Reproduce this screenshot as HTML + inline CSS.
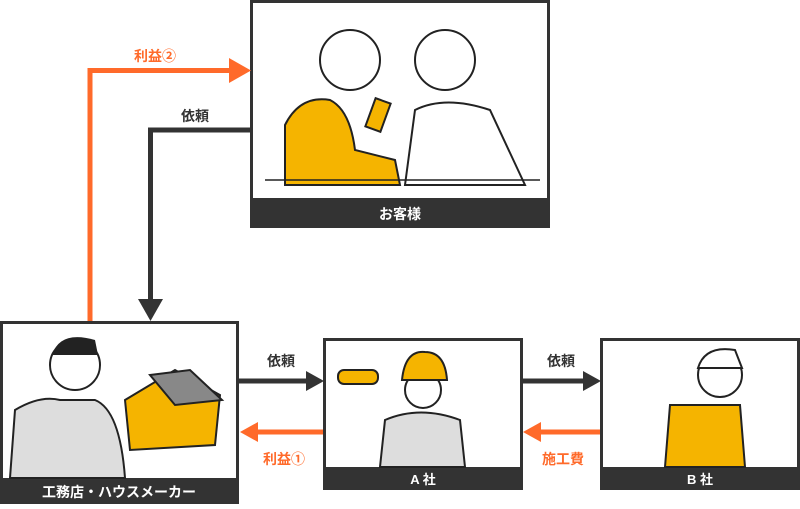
<!DOCTYPE html>
<html><head><meta charset="utf-8"><style>
body{margin:0;width:800px;height:504px;background:#fff;overflow:hidden;font-family:"Liberation Sans","Noto Sans CJK JP",sans-serif;}
</style></head><body>
<svg width="800" height="504" viewBox="0 0 800 504" xmlns="http://www.w3.org/2000/svg" font-family="Liberation Sans, Noto Sans CJK JP, sans-serif" font-weight="bold">
<!-- top box -->
<rect x="251.5" y="1.5" width="297" height="225" fill="#fff" stroke="#333" stroke-width="3"/>
<rect x="250" y="198" width="300" height="30" fill="#333"/>
<text x="400" y="219" fill="#fff" font-size="14" text-anchor="middle">お客様</text>
<!-- top illustration -->
<path d="M285 185 L285 125 Q300 95 330 100 Q350 110 355 150 L395 160 L400 185 Z" fill="#f5b400" stroke="#222" stroke-width="2"/>
<circle cx="350" cy="60" r="30" fill="#fff" stroke="#222" stroke-width="2"/>
<circle cx="445" cy="60" r="30" fill="#fff" stroke="#222" stroke-width="2"/>
<path d="M405 185 L415 110 Q445 95 490 110 L525 185 Z" fill="#fff" stroke="#222" stroke-width="2"/>
<rect x="370" y="100" width="16" height="30" fill="#f5b400" stroke="#222" stroke-width="2" transform="rotate(20 378 115)"/>
<line x1="265" y1="180" x2="540" y2="180" stroke="#222" stroke-width="1.5"/>
<!-- left box -->
<rect x="1.5" y="322.5" width="236" height="180" fill="#fff" stroke="#333" stroke-width="3"/>
<rect x="0" y="478" width="239" height="26" fill="#333"/>
<text x="119" y="497" fill="#fff" font-size="14" text-anchor="middle">工務店・ハウスメーカー</text>
<path d="M10 478 L15 410 Q40 395 60 400 L95 400 Q120 410 125 478 Z" fill="#ddd" stroke="#222" stroke-width="2"/>
<circle cx="75" cy="365" r="25" fill="#fff" stroke="#222" stroke-width="2"/>
<path d="M52 355 Q60 330 95 340 L98 355 Z" fill="#222"/>
<path d="M125 400 L175 370 L220 395 L215 445 L130 450 Z" fill="#f5b400" stroke="#222" stroke-width="2"/>
<path d="M150 375 L190 370 L222 400 L175 405 Z" fill="#888" stroke="#222" stroke-width="2"/>
<!-- middle box -->
<rect x="324.5" y="339.5" width="197" height="149" fill="#fff" stroke="#333" stroke-width="3"/>
<rect x="323" y="467" width="200" height="23" fill="#333"/>
<text x="423" y="484" fill="#fff" font-size="13" text-anchor="middle">A 社</text>
<rect x="338" y="370" width="40" height="14" rx="6" fill="#f5b400" stroke="#222" stroke-width="2"/>
<path d="M380 467 L385 420 Q420 405 460 420 L465 467 Z" fill="#ddd" stroke="#222" stroke-width="2"/>
<circle cx="423" cy="390" r="18" fill="#fff" stroke="#222" stroke-width="2"/>
<path d="M402 380 Q405 350 425 352 Q445 352 447 380 Z" fill="#f5b400" stroke="#222" stroke-width="2"/>
<!-- right box -->
<rect x="601.5" y="339.5" width="197" height="149" fill="#fff" stroke="#333" stroke-width="3"/>
<rect x="600" y="467" width="200" height="23" fill="#333"/>
<text x="700" y="484" fill="#fff" font-size="13" text-anchor="middle">B 社</text>
<path d="M665 467 L670 405 L740 405 L745 467 Z" fill="#f5b400" stroke="#222" stroke-width="2"/>
<circle cx="720" cy="375" r="22" fill="#fff" stroke="#222" stroke-width="2"/>
<path d="M698 368 Q705 345 735 350 L742 368 Z" fill="#fff" stroke="#222" stroke-width="2"/>
<!-- arrows -->
<polyline points="90,321 90,70.5 232,70.5" fill="none" stroke="#ff6a2a" stroke-width="5"/>
<polygon points="229,58 251,70.5 229,83" fill="#ff6a2a"/>
<text x="155" y="61" fill="#ff6a2a" font-size="14" text-anchor="middle">利益②</text>
<polyline points="250,130 150.5,130 150.5,302" fill="none" stroke="#333" stroke-width="5"/>
<polygon points="138,299 150.5,321 163,299" fill="#333"/>
<text x="195" y="121" fill="#333" font-size="14" text-anchor="middle">依頼</text>
<line x1="239" y1="381" x2="310" y2="381" stroke="#333" stroke-width="5"/>
<polygon points="306,371 324,381 306,391" fill="#333"/>
<text x="281" y="366" fill="#333" font-size="14" text-anchor="middle">依頼</text>
<line x1="323" y1="432" x2="254" y2="432" stroke="#ff6a2a" stroke-width="5"/>
<polygon points="258,422 240,432 258,442" fill="#ff6a2a"/>
<text x="284" y="464" fill="#ff6a2a" font-size="14" text-anchor="middle">利益①</text>
<line x1="522" y1="381" x2="587" y2="381" stroke="#333" stroke-width="5"/>
<polygon points="583,371 601,381 583,391" fill="#333"/>
<text x="561" y="366" fill="#333" font-size="14" text-anchor="middle">依頼</text>
<line x1="600" y1="432" x2="538" y2="432" stroke="#ff6a2a" stroke-width="5"/>
<polygon points="541,422 523,432 541,442" fill="#ff6a2a"/>
<text x="563" y="464" fill="#ff6a2a" font-size="14" text-anchor="middle">施工費</text>
</svg>
</body></html>
